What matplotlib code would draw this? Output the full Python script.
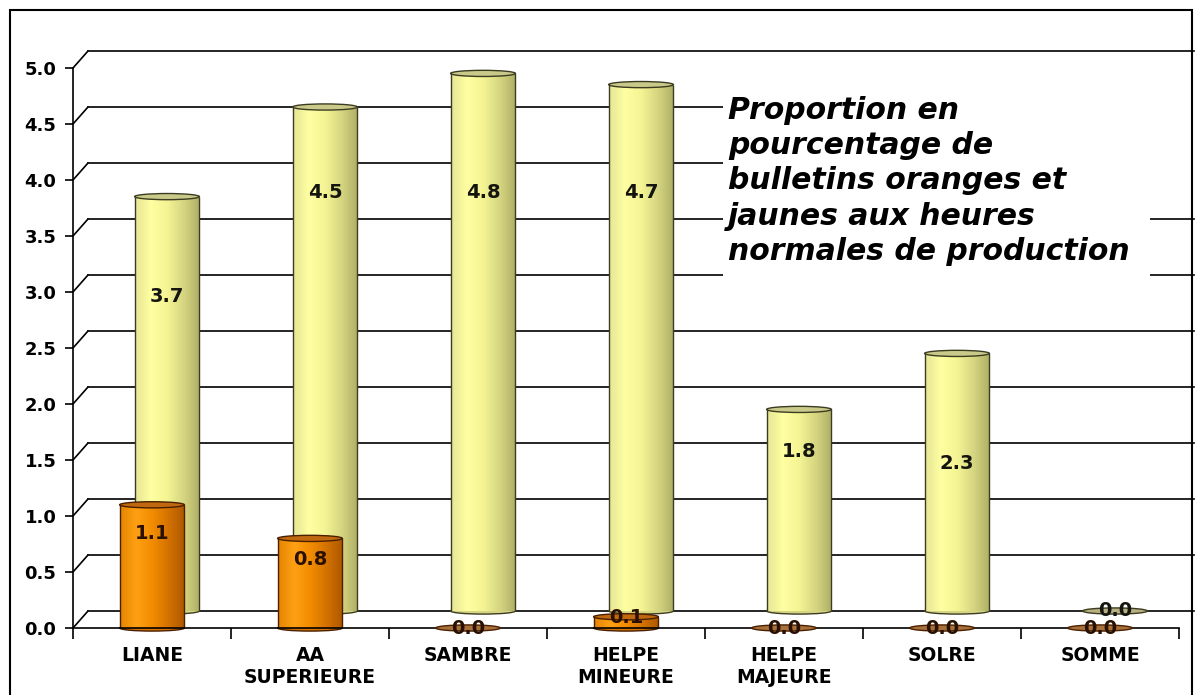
import numpy as np
import matplotlib
matplotlib.use('Agg')
import matplotlib.pyplot as plt
from matplotlib.colors import LinearSegmentedColormap
from matplotlib.patches import Ellipse, Rectangle, ConnectionPatch

categories = ['LIANE', 'AA\nSUPERIEURE', 'SAMBRE', 'HELPE\nMINEURE',
              'HELPE\nMAJEURE', 'SOLRE', 'SOMME']
orange_vals = [1.1, 0.8, 0.0, 0.1, 0.0, 0.0, 0.0]   # front series
jaune_vals = [3.7, 4.5, 4.8, 4.7, 1.8, 2.3, 0.0]    # back series
# where Excel put the value labels (in data units)
orange_lbl_y = [0.84, 0.61, 0.0, 0.09, 0.0, 0.0, 0.0]
jaune_lbl_y = [2.81, 3.74, 3.74, 3.74, 1.42, 1.32, 0.0]
yticks = np.arange(0, 5.01, 0.5)

title = ("Proportion en\npourcentage de\nbulletins oranges et\n"
         "jaunes aux heures\nnormales de production")

W, H = 1201, 695
fig = plt.figure(figsize=(W / 100, H / 100), dpi=100)

# back wall (yellow series) is the front axes shifted up/right -> fake depth
ax_b = fig.add_axes([88 / W, (H - 611) / H, 1106 / W, 560 / H], zorder=0)
ax_f = fig.add_axes([73 / W, (H - 628) / H, 1106 / W, 560 / H], zorder=1)
ax_f.patch.set_visible(False)

cmap_j = LinearSegmentedColormap.from_list(
    'j', ['#E6E696', '#FFFFA2', '#F4F494', '#D6D682', '#B0B066'])
cmap_o = LinearSegmentedColormap.from_list(
    'o', ['#E48600', '#FFA014', '#F28C00', '#D47200', '#AE5800'])


def cylinders(ax, values, cmap, edge, lid, disc, width=0.41, eh=0.055):
    x = np.arange(len(values))
    bars = ax.bar(x, values, width, color='none', linewidth=0, zorder=2)
    grad = np.linspace(0, 1, 80).reshape(1, -1)
    for xi, v, p in zip(x, values, bars.patches):
        x0 = p.get_x()
        if v <= 0:
            ax.add_patch(Ellipse((xi, 0), width, eh, fc=disc, ec=edge,
                                 lw=1, zorder=3, clip_on=False))
            continue
        ax.add_patch(Ellipse((xi, 0), width, eh, fc=cmap(0.75), ec=edge,
                             lw=1, zorder=1.9, clip_on=False))
        ax.imshow(grad, cmap=cmap, extent=(x0, x0 + width, 0, v),
                  aspect='auto', interpolation='bilinear', zorder=2)
        ax.vlines([x0, x0 + width], 0, v, color=edge, lw=1, zorder=2.5)
        ax.add_patch(Ellipse((xi, v), width, eh, fc=lid, ec=edge, lw=1,
                             zorder=3, clip_on=False))
    ax.set_xlim(-0.5, len(values) - 0.5)
    ax.set_ylim(0, 5)


# back wall grid
cylinders(ax_b, jaune_vals, cmap_j, '#3C3C22', '#C9C98A', '#B8B080')
for v in yticks:
    ax_b.axhline(v, color='black', lw=1.2, zorder=0.5, clip_on=False)
for s in ax_b.spines.values():
    s.set_visible(False)
ax_b.set_xticks([])
ax_b.set_yticks([])
for i, (v, ly) in enumerate(zip(jaune_vals, jaune_lbl_y)):
    ax_b.text(i, ly, f'{v:.1f}', ha='center', va='center', fontsize=14,
              fontweight='bold', color='#151510', zorder=4)

# front series
cylinders(ax_f, orange_vals, cmap_o, '#4A2000', '#C06810', '#A8703A')
for i, (v, ly) in enumerate(zip(orange_vals, orange_lbl_y)):
    ax_f.text(i, ly, f'{v:.1f}', ha='center', va='center', fontsize=14,
              fontweight='bold', color='#2A1000', zorder=4)

for s in ['top', 'right']:
    ax_f.spines[s].set_visible(False)
for s in ['left', 'bottom']:
    ax_f.spines[s].set_linewidth(1.2)
ax_f.set_yticks(yticks)
ax_f.set_yticklabels([f'{v:.1f}' for v in yticks])
ax_f.tick_params(axis='y', direction='out', length=6, width=1.2, pad=6,
                 labelsize=13)
for t in ax_f.get_yticklabels():
    t.set_fontweight('bold')
ax_f.set_xticks(np.arange(-0.5, len(categories), 1))
ax_f.set_xticklabels([])
ax_f.tick_params(axis='x', which='major', direction='out', length=8, width=1.2)
ax_f.set_xticks(np.arange(len(categories)), minor=True)
ax_f.set_xticklabels(categories, minor=True, fontsize=13.5, fontweight='bold',
                     linespacing=1.2)
ax_f.tick_params(axis='x', which='minor', length=0, pad=13)

# slanted connectors between the front axis and the back wall
for v in yticks:
    fig.add_artist(ConnectionPatch(xyA=(-0.5, v), coordsA=ax_f.transData,
                                   xyB=(-0.5, v), coordsB=ax_b.transData,
                                   color='black', lw=1.2))

# white area behind the annotation + the annotation itself
fig.add_artist(Rectangle((723 / W, 1 - 285 / H), 427 / W, 200 / H,
                         transform=fig.transFigure, fc='white', ec='none',
                         zorder=2))
fig.add_artist(Rectangle((1150 / W, 1 - 190 / H), 45 / W, 105 / H,
                         transform=fig.transFigure, fc='white', ec='none',
                         zorder=2))
fig.text(728 / W, 1 - 96 / H, title, ha='left', va='top', fontsize=21.5,
         fontweight='bold', style='italic', family='DejaVu Sans',
         linespacing=1.27, zorder=3)

# outer frame
fig.add_artist(Rectangle((10 / W, -0.02), 1182 / W, 1 - 10 / H + 0.02,
                         transform=fig.transFigure, fill=False, ec='black',
                         lw=1.5, zorder=5))

fig.savefig('out.png', dpi=100)
